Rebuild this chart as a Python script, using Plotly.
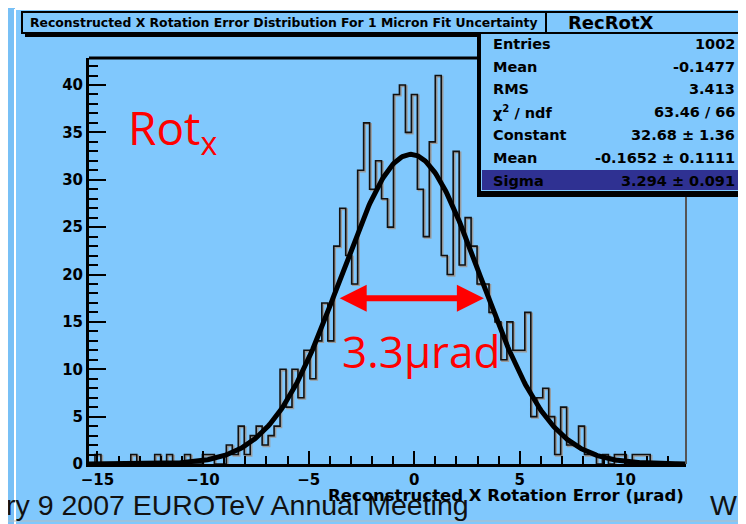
import numpy as np
import plotly.graph_objects as go

# ─── Dados ──────────────────────────────────────────────────────────────────────
X_MIN, X_MAX = -15.4, 12.87
Y_MAX = 42.85
BIN_COUNTS = [
    0, 1, 0, 0, 0, 0, 0, 1, 0, 0,
    0, 1, 0, 1, 0, 0, 1, 0, 0, 1,
    1, 0, 0, 2, 1, 4, 1, 3, 4, 2,
    3, 4, 10, 6, 10, 7, 12, 9, 13, 17,
    13, 23, 27, 22, 19, 31, 36, 29, 32, 28,
    25, 39, 40, 35, 39, 29, 24, 34, 41, 22,
    20, 33, 21, 26, 23, 19, 19, 16, 15, 11,
    15, 12, 12, 16, 5, 7, 8, 5, 1, 6,
    2, 2, 4, 1, 1, 0, 1, 0, 1, 1,
    0, 1, 1, 1, 0, 0, 0, 0, 0, 0,
]
FIT_CONST, FIT_MEAN, FIT_SIGMA = 32.68, -0.1652, 3.294

TITLE = "Reconstructed X Rotation Error Distribution For 1 Micron Fit Uncertainty"
HIST_NAME = "RecRotX"
STAT_LABELS = ["Entries", "Mean", "RMS", "χ<sup>2</sup> / ndf", "Constant", "Mean", "Sigma"]
STAT_VALUES = ["1002", "-0.1477", "3.413", "63.46 / 66", "32.68 ± 1.36",
               "-0.1652 ± 0.1111", "3.294 ± 0.091"]
X_TITLE = "Reconstructed X Rotation Error (μrad)"
FOOTER = "ry 9 2007 EUROTeV Annual Meeting"

# ─── Estilo ────────────────────────────────────────────────────────────────────
OFF = 8                      # margem padrão do <body> na página
W, H = 746 - OFF, 524 - OFF
PL, PR, PT, PB = 89, 686, 58, 464   # área do gráfico em pixels da janela
BG = "#80C8FD"
ROOT_FONT = dict(family="DejaVu Sans, sans-serif", color="black", weight="bold")
SLIDE_FONT = dict(family="Liberation Sans, Arial, sans-serif", size=28.5, color="#111111")
RED_FONT = "Open Sans, sans-serif"


def fx(p):
    return (p - PL) / (PR - PL)


def fy(p):
    return (PB - p) / (PB - PT)


edges = np.linspace(X_MIN, X_MAX, len(BIN_COUNTS) + 1)
centers = (edges[:-1] + edges[1:]) / 2
counts = np.array(BIN_COUNTS, dtype=float)

xs = np.linspace(X_MIN, X_MAX, 500)
gauss = FIT_CONST * np.exp(-0.5 * ((xs - FIT_MEAN) / FIT_SIGMA) ** 2)

fig = go.Figure()

# sombra cinza do histograma
fig.add_trace(go.Scatter(
    x=centers + 0.06, y=counts - 0.12, mode="lines", line_shape="hvh",
    line=dict(color="#9a9a9a", width=2), hoverinfo="skip", showlegend=False,
))
fig.add_trace(go.Scatter(
    x=centers, y=counts, mode="lines", line_shape="hvh",
    line=dict(color="#111111", width=1.6), showlegend=False,
))
fig.add_trace(go.Scatter(
    x=xs, y=gauss, mode="lines", line=dict(color="black", width=5), showlegend=False,
))


def rect(x0, x1, y0, y1, **kw):
    return dict(type="rect", xref="paper", yref="paper",
                x0=fx(x0), x1=fx(x1), y0=fy(y1), y1=fy(y0), **kw)


def hline(x0, x1, y, **kw):
    return dict(type="line", xref="paper", yref="paper",
                x0=fx(x0), x1=fx(x1), y0=fy(y), y1=fy(y), **kw)


shapes = [
    # faixas externas e linhas brancas do canvas
    rect(0, 15, 0, 530, fillcolor="#78C0F6", line_width=0, layer="below"),
    rect(0, 760, 0, 9, fillcolor="#78C0F6", line_width=0, layer="below"),
    dict(type="line", xref="paper", yref="paper", x0=fx(15), x1=fx(15), y0=fy(530), y1=fy(9),
         line=dict(color="white", width=2), layer="below"),
    hline(15, 760, 9, line=dict(color="white", width=2), layer="below"),
    # moldura superior e direita
    dict(type="line", xref="paper", yref="paper", x0=0, x1=1, y0=1, y1=1,
         line=dict(color="black", width=3)),
    dict(type="line", xref="paper", yref="paper", x0=1, x1=1, y0=0, y1=1,
         line=dict(color="#555555", width=2)),
    # caixa do título
    rect(25, 550, 16, 37, fillcolor="black", line_width=0, layer="above"),
    rect(22, 546, 12, 33, fillcolor=BG, line=dict(color="black", width=2), layer="above"),
    # caixa de estatísticas
    rect(477, 760, 36, 197, fillcolor="black", line_width=0, layer="above"),
    rect(480, 760, 33, 192, fillcolor=BG, line=dict(color="black", width=2), layer="above"),
    rect(482, 742, 170, 190, fillcolor="#2F3192", line_width=0, layer="above"),
    rect(546, 760, 12, 33, fillcolor=BG, line=dict(color="black", width=2), layer="above"),
    # linha cinza no rodapé do slide
    hline(0, 760, 521, line=dict(color="#bbbbbb", width=1)),
]


def label(text, x, y, xanchor, font):
    return dict(text=text, xref="paper", yref="paper", x=fx(x), y=fy(y),
                xanchor=xanchor, yanchor="middle", showarrow=False, font=font)


annotations = [
    label(FOOTER, 4, 505, "left", SLIDE_FONT),
    label("Wi", 708, 505, "left", SLIDE_FONT),
    label(X_TITLE, 686, 495, "right", dict(**ROOT_FONT, size=16.5)),
    label(TITLE, 284, 22.5, "center", dict(**ROOT_FONT, size=12.4)),
    label(HIST_NAME, 611, 22, "center", dict(**ROOT_FONT, size=18)),
    # anotações vermelhas
    label("Rot<sub>x</sub>", 126, 130, "left", dict(family=RED_FONT, size=46, color="#FF0000")),
    label("3.3μrad", 340, 351, "left", dict(family=RED_FONT, size=44, color="#FF0000")),
    dict(x=3.3, y=17.5, ax=-3.6, ay=17.5, xref="x", yref="y", axref="x", ayref="y",
         text="", showarrow=True, arrowhead=2, arrowside="end+start", arrowsize=0.9,
         arrowwidth=6, arrowcolor="#FF0000"),
]

row_y = [44, 67, 89, 112, 135, 158, 181]
for lab, val, yy in zip(STAT_LABELS, STAT_VALUES, row_y):
    annotations.append(label(lab, 491, yy, "left", dict(**ROOT_FONT, size=14.5)))
    annotations.append(label(val, 737, yy, "right", dict(**ROOT_FONT, size=14.5)))

fig.update_layout(
    width=W, height=H,
    margin=dict(l=PL - OFF, r=746 - PR, t=PT - OFF, b=524 - PB),
    paper_bgcolor=BG, plot_bgcolor=BG,
    showlegend=False,
    xaxis=dict(
        range=[X_MIN, X_MAX], showgrid=False, zeroline=False,
        showline=True, linecolor="black", linewidth=3,
        ticks="inside", ticklen=13, tickwidth=2, tickcolor="black", dtick=5, tick0=0,
        minor=dict(ticks="inside", ticklen=8, tickwidth=2, tickcolor="black", dtick=1),
        tickfont=dict(**ROOT_FONT, size=15),
    ),
    yaxis=dict(
        range=[0, Y_MAX], showgrid=False, zeroline=False,
        showline=True, linecolor="black", linewidth=3,
        ticks="inside", ticklen=17, tickwidth=2, tickcolor="black", dtick=5,
        minor=dict(ticks="inside", ticklen=9, tickwidth=2, tickcolor="black", dtick=1),
        tickfont=dict(**ROOT_FONT, size=15),
    ),
    shapes=shapes,
    annotations=annotations,
)

fig.write_html("out.html")
